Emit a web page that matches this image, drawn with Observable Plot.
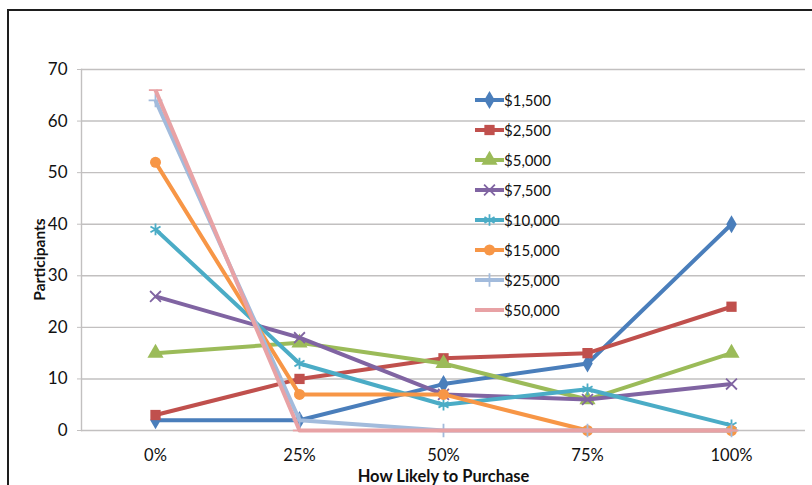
<!DOCTYPE html>
<html>
<head>
<meta charset="utf-8">
<script src="https://cdn.jsdelivr.net/npm/d3@7"></script>
<script src="https://cdn.jsdelivr.net/npm/@observablehq/plot@0.6"></script>
<style>
  html, body { margin: 0; padding: 0; background: #fff; }
  #wrap { position: relative; width: 812px; height: 485px; overflow: hidden; background: #fff; font-family: Lato, "Open Sans", sans-serif; }
  #border { position: absolute; left: 7px; top: 9px; width: 1200px; height: 1200px; border: 2px solid #1e1e1e; box-sizing: border-box; }
  #chart { position: absolute; left: 0; top: 0; }
  #legend { position: absolute; left: 474px; top: 85px; }
  .row { display: flex; align-items: center; height: 30px; }
  .row span { font-size: 15px; color: #111; margin-left: -2px; }
</style>
</head>
<body>
<div id="wrap">
  <div id="border"></div>
  <div id="chart"></div>
  <div id="legend"></div>
</div>
<script>
const categories = ["0%", "25%", "50%", "75%", "100%"];
const seriesNames = ["$1,500", "$2,500", "$5,000", "$7,500", "$10,000", "$15,000", "$25,000", "$50,000"];
const v1500  = [2, 2, 9, 13, 40];
const v2500  = [3, 10, 14, 15, 24];
const v5000  = [15, 17, 13, 6, 15];
const v7500  = [26, 18, 7, 6, 9];
const v10000 = [39, 13, 5, 8, 1];
const v15000 = [52, 7, 7, 0, 0];
const v25000 = [64, 2, 0, 0, 0];
const v50000 = [66, 0, 0, 0, 0];
const yTicks = [0, 10, 20, 30, 40, 50, 60, 70];

const values = [v1500, v2500, v5000, v7500, v10000, v15000, v25000, v50000];
const colors = ["#4a7ebb", "#c0504d", "#9bbb59", "#8064a2", "#4bacc6", "#f79646", "#a2bbdc", "#e8a2a5"];

const dash = { draw(context, size) { const w = Math.sqrt(size) * 0.75; context.moveTo(-w, 0); context.lineTo(w, 0); } };
const markers = [
  { symbol: "diamond", r: 5.5, filled: true },
  { symbol: "square", r: 5.8, filled: true },
  { symbol: "triangle", r: 6, filled: true },
  { symbol: "times", r: 5, filled: false },
  { symbol: "asterisk", r: 5.5, filled: false },
  { symbol: "circle", r: 5.5, filled: true },
  { symbol: "plus", r: 4.5, filled: false },
  { symbol: dash, r: 5, filled: false }
];

const data = seriesNames.flatMap((s, i) => values[i].map((v, j) => ({ series: s, idx: i, x: categories[j], y: v })));

const marks = [
  Plot.ruleY(yTicks, { stroke: "#c2c0c0", strokeWidth: 1.4 }),
  Plot.frame({ anchor: "left", stroke: "#c2c0c0", strokeWidth: 1.4 }),
  Plot.axisY({ ticks: yTicks, tickSize: 4, tickPadding: 10, stroke: "#c2c0c0", fontSize: 17, label: null }),
  Plot.axisX({ tickSize: 0, tickPadding: 19, fontSize: 16.5, label: null }),
  Plot.text(["How Likely to Purchase"], { frameAnchor: "bottom", lineAnchor: "middle", dy: 46, fontWeight: "bold", fontSize: 16.5 }),
  Plot.text(["Participants"], { frameAnchor: "left", rotate: -90, lineAnchor: "middle", textAnchor: "middle", dx: -41, dy: 9.5, fontWeight: "bold", fontSize: 15.5 })
];

seriesNames.forEach((s, i) => {
  const d = data.filter(e => e.idx === i);
  marks.push(Plot.line(d, { x: "x", y: "y", stroke: colors[i], strokeWidth: 4, strokeLinejoin: "round", strokeLinecap: "butt" }));
  const m = markers[i];
  marks.push(Plot.dot(d, {
    x: "x", y: "y", symbol: m.symbol, r: m.r,
    fill: m.filled ? colors[i] : "none",
    stroke: m.filled ? "none" : colors[i],
    strokeWidth: m.filled ? 0 : 1.8
  }));
});

const chart = Plot.plot({
  width: 812, height: 485,
  marginLeft: 81, marginRight: 7, marginTop: 69, marginBottom: 55,
  style: { fontFamily: "Lato, 'Open Sans', sans-serif", fontSize: "16px", background: "transparent", color: "#111", overflow: "visible" },
  x: { type: "point", domain: categories, padding: 0.5, label: null },
  y: { domain: [0, 70], label: null },
  marks
});
document.getElementById("chart").appendChild(chart);

// Legend
const legend = d3.select("#legend");
seriesNames.forEach((s, i) => {
  const row = legend.append("div").attr("class", "row");
  const svg = row.append("svg").attr("width", 32).attr("height", 20);
  svg.append("line").attr("x1", 1).attr("x2", 30).attr("y1", 10).attr("y2", 10)
    .attr("stroke", colors[i]).attr("stroke-width", 4);
  const m = markers[i];
  const symType = typeof m.symbol === "string" ? {
    diamond: d3.symbolDiamond, square: d3.symbolSquare, triangle: d3.symbolTriangle,
    times: d3.symbolTimes, asterisk: d3.symbolAsterisk, circle: d3.symbolCircle, plus: d3.symbolPlus
  }[m.symbol] : m.symbol;
  svg.append("path").attr("transform", "translate(15.5,10)")
    .attr("d", d3.symbol(symType, Math.PI * m.r * m.r)())
    .attr("fill", m.filled ? colors[i] : "none")
    .attr("stroke", m.filled ? "none" : colors[i])
    .attr("stroke-width", 1.8);
  row.append("span").text(s);
});
</script>
</body>
</html>
